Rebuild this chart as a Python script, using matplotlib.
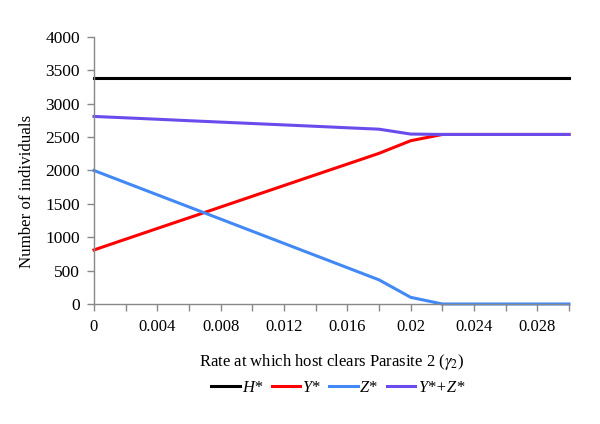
import matplotlib
matplotlib.use("Agg")
import matplotlib.pyplot as plt
import numpy as np

gamma2 = [0.000, 0.002, 0.004, 0.006, 0.008, 0.010, 0.012, 0.014, 0.016, 0.018,
          0.020, 0.022, 0.024, 0.026, 0.028, 0.030]
H_star = [3390] * 16
Y_star = [810, 971, 1132, 1292, 1453, 1614, 1775, 1936, 2096, 2257,
          2446, 2540, 2540, 2540, 2540, 2540]
Z_star = [2000, 1818, 1636, 1454, 1272, 1090, 908, 726, 544, 362,
          100, 0, 0, 0, 0, 0]
YZ_star = [y + z for y, z in zip(Y_star, Z_star)]
xtick_labels = ["0", "0.004", "0.008", "0.012", "0.016", "0.02", "0.024", "0.028"]

plt.rcParams['font.family'] = ['Liberation Serif', 'DejaVu Serif']
plt.rcParams['mathtext.fontset'] = 'stix'

fig = plt.figure(figsize=(6, 4.24), dpi=100)
ax = fig.add_axes([94/600, 1-304/424, (569-94)/600, (304-37)/424])

lw = 2.2
l1, = ax.plot(gamma2, H_star, color='black', lw=lw, label='H*')
l2, = ax.plot(gamma2, Y_star, color='#ff0000', lw=lw, label='Y*')
l3, = ax.plot(gamma2, Z_star, color='#4389f5', lw=lw, label='Z*')
l4, = ax.plot(gamma2, YZ_star, color='#6a4cec', lw=lw, label='Y*+Z*')

ax.set_xlim(0, 0.030)
ax.set_ylim(0, 4000)
ax.set_yticks(np.arange(0, 4001, 500))
ax.set_xticks(gamma2)
ax.set_xticklabels([xtick_labels[i // 2] if i % 2 == 0 and i // 2 < len(xtick_labels) else '' for i in range(16)])

for s in ['top', 'right']:
    ax.spines[s].set_visible(False)
for s in ['left', 'bottom']:
    ax.spines[s].set_color('#888888')
    ax.spines[s].set_linewidth(1)
ax.tick_params(axis='both', colors='#888888', labelcolor='black', labelsize=12, length=5, width=1)
ax.tick_params(axis='y', labelsize=12.5, pad=5)
ax.tick_params(axis='x', pad=6)
for l in (l1, l2, l3, l4):
    l.set_clip_on(False)

ax.set_xlabel(r'Rate at which host clears Parasite 2 ($\gamma_2$)', fontsize=12, labelpad=12)
ax.set_ylabel('Number of individuals', fontsize=12.2)
ax.yaxis.set_label_coords(-0.124, 0.42)

leg = fig.legend(handles=[l1, l2, l3, l4], loc='center', bbox_to_anchor=(0.563, 1-388/424),
                 ncol=4, frameon=False, handlelength=1.7, handletextpad=0.15,
                 columnspacing=0.55, prop={'style': 'italic', 'size': 12, 'family': 'Liberation Serif'})

fig.savefig('out.png', dpi=100)
